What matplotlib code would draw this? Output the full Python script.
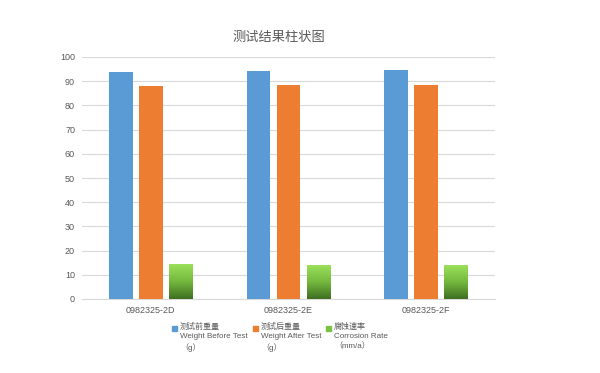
import numpy as np
import matplotlib.pyplot as plt
from matplotlib.colors import LinearSegmentedColormap
from matplotlib.patches import Rectangle

plt.rcParams['font.family'] = ['Liberation Sans', 'Noto Sans CJK SC', 'DejaVu Sans']

categories = ['0982325-2D', '0982325-2E', '0982325-2F']
weight_before = [94.0, 94.3, 94.6]
weight_after = [88.0, 88.3, 88.6]
corrosion_rate = [14.1, 13.8, 13.8]
labels = ['测试前重量\nWeight Before Test\n（g）',
          '测试后重量\nWeight After Test\n（g）',
          '腐蚀速率\nCorrosion Rate\n（mm/a）']
colors = ['#5b9bd5', '#ed7d31', '#7cc242']

fig = plt.figure(figsize=(6, 3.73), dpi=100)
ax = fig.add_axes([82 / 600, 1 - 299 / 373, 413 / 600, 242 / 373])

x = np.arange(len(categories))
width = 0.174
step = 0.218
b1 = ax.bar(x - step, weight_before, width, color=colors[0], zorder=3)
b2 = ax.bar(x, weight_after, width, color=colors[1], zorder=3)
b3 = ax.bar(x + step, corrosion_rate, width, color=colors[2], zorder=3)

# gradient fill for the green bars
grad = np.linspace(0, 1, 100).reshape(-1, 1)
cmap = LinearSegmentedColormap.from_list('g', ['#3f6f22', '#74b83e', '#9ae05a'])
for r in b3:
    x0, y0 = r.get_x(), r.get_y()
    ax.imshow(grad, cmap=cmap, origin='lower', aspect='auto', zorder=4,
              extent=[x0, x0 + r.get_width(), y0, y0 + r.get_height()])

ax.set_xlim(-0.5, 2.5)
ax.set_ylim(0, 100)
ax.set_yticks(range(0, 101, 10))
ax.set_xticks(x)
ax.set_xticklabels(categories)
ax.tick_params(length=0, labelsize=6.5, colors='#595959', pad=5)
ax.grid(axis='y', color='#d9d9d9', linewidth=0.8, zorder=0)
for s in ['top', 'right', 'left']:
    ax.spines[s].set_visible(False)
ax.spines['bottom'].set_color('#d9d9d9')

fig.text(279 / 600, 1 - 38 / 373, '测试结果柱状图', ha='center', va='center',
         fontsize=9.5, color='#595959')

# legend: square marker beside first line, multi-line label left aligned
leg_x = [172, 253, 326]
for lx, lab, c in zip(leg_x, labels, colors):
    fig.patches.append(Rectangle((lx / 600, 1 - 331 / 373), 5 / 600, 5 / 373,
                                 transform=fig.transFigure, color=c))
    fig.text((lx + 8) / 600, 1 - 323 / 373, lab, ha='left', va='top',
             fontsize=5.8, color='#595959', linespacing=1.45)

fig.savefig('out.png', dpi=100, facecolor='white')
